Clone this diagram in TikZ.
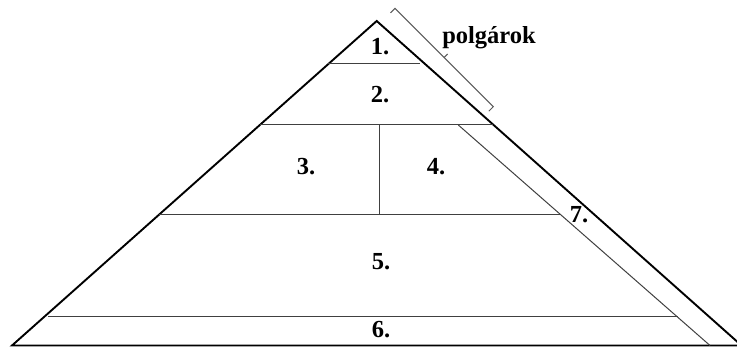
\documentclass[tikz,border=0pt]{standalone}
\usepackage{fontspec}
\setmainfont{Liberation Serif}
\begin{document}
\begin{tikzpicture}[x=1pt,y=-1pt,
  outer/.style={line width=1.9pt, black, line join=miter},
  inner/.style={line width=1pt, black!75},
  brk/.style={line width=1pt, black!65},
  lbl/.style={font=\bfseries\fontsize{24.5}{28}\selectfont, anchor=base, inner sep=0pt}]
\useasboundingbox (0,0) rectangle (737,347);
\clip (0,0) rectangle (737,347);
% outer triangle
\coordinate (A) at (376.7,21);
\coordinate (L) at (12,345.5);
\coordinate (R) at (741.5,345.5);
\draw[outer] (L) -- (A) -- (R) -- cycle;
% inner division lines
\coordinate (h1l) at (328.4,64);
\coordinate (h1r) at (420,64);
\coordinate (h2l) at (260,125);
\coordinate (h2r) at (493.4,125);
\coordinate (vt) at (379,125);
\coordinate (vb) at (379,214.5);
\coordinate (h3l) at (159,214.5);
\coordinate (h3r) at (561.3,214.5);
\coordinate (h5l) at (48,317);
\coordinate (h5r) at (678,317);
\coordinate (s7t) at (458.3,125);
\coordinate (s7b) at (710,345.5);
\draw[inner] (h1l) -- (h1r);
\draw[inner] (h2l) -- (h2r);
\draw[inner] (vt) -- (vb);
\draw[inner] (h3l) -- (h3r);
\draw[inner] (h5l) -- (h5r);
\draw[inner] (s7t) -- (s7b);
% bracket
\coordinate (b1) at (390.5,12.8);
\coordinate (b2) at (395,8.3);
\coordinate (b3) at (493.3,106.7);
\coordinate (b4) at (488.8,111.2);
\coordinate (bm) at (444.2,57.5);
\coordinate (bt) at (447.7,54);
\draw[brk] (b1) -- (b2) -- (b3) -- (b4);
\draw[brk] (bm) -- (bt);
% labels
\node[lbl] (n1) at (380,55) {1.};
\node[lbl] (n2) at (380,103) {2.};
\node[lbl] (n3) at (306,175) {3.};
\node[lbl] (n4) at (436,175) {4.};
\node[lbl] (n5) at (381,270) {5.};
\node[lbl] (n6) at (381,338) {6.};
\node[lbl] (n7) at (579,223) {7.};
\node[lbl] (pol) at (489,44) {polgárok};
\end{tikzpicture}
\end{document}
